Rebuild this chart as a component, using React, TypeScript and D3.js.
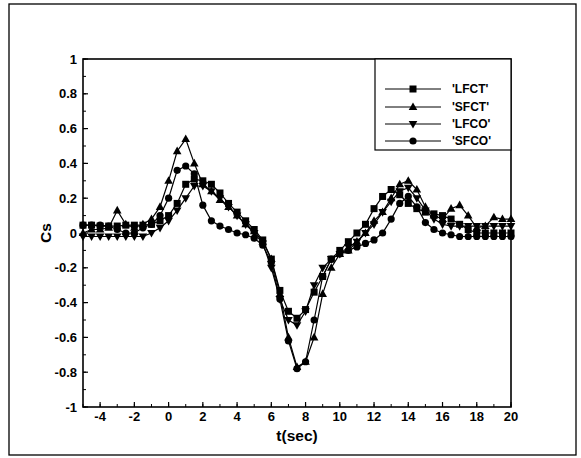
import React from "react";
import * as d3 from "d3";

const times = [-5, -4.5, -4, -3.5, -3, -2.5, -2, -1.5, -1, -0.5, 0, 0.5, 1, 1.5, 2, 2.5, 3, 3.5, 4, 4.5, 5, 5.5, 6, 6.5, 7, 7.5, 8, 8.5, 9, 9.5, 10, 10.5, 11, 11.5, 12, 12.5, 13, 13.5, 14, 14.5, 15, 15.5, 16, 16.5, 17, 17.5, 18, 18.5, 19, 19.5, 20];

const lfct = [0.045, 0.045, 0.04, 0.04, 0.04, 0.045, 0.045, 0.045, 0.05, 0.07, 0.1, 0.17, 0.28, 0.31, 0.3, 0.28, 0.23, 0.17, 0.12, 0.07, 0.02, -0.04, -0.15, -0.33, -0.45, -0.49, -0.44, -0.34, -0.25, -0.15, -0.1, -0.05, 0.0, 0.05, 0.14, 0.21, 0.25, 0.22, 0.17, 0.14, 0.12, 0.11, 0.1, 0.08, 0.05, 0.02, 0.0, 0.0, 0.0, 0.0, 0.0];
const sfct = [0.0, 0.02, 0.02, 0.03, 0.13, 0.05, 0.03, 0.05, 0.08, 0.15, 0.3, 0.47, 0.54, 0.4, 0.28, 0.24, 0.19, 0.15, 0.1, 0.05, 0.01, -0.05, -0.15, -0.35, -0.6, -0.77, -0.74, -0.6, -0.35, -0.2, -0.12, -0.1, -0.05, 0.0, 0.07, 0.12, 0.2, 0.28, 0.3, 0.25, 0.15, 0.1, 0.08, 0.14, 0.16, 0.1, 0.03, 0.04, 0.09, 0.08, 0.08];
const lfco = [-0.02, -0.02, -0.02, -0.02, -0.02, -0.02, -0.02, -0.02, 0.0, 0.03, 0.07, 0.13, 0.2, 0.27, 0.27, 0.24, 0.2, 0.15, 0.1, 0.05, 0.0, -0.06, -0.2, -0.38, -0.5, -0.53, -0.45, -0.3, -0.2, -0.15, -0.12, -0.08, -0.05, 0.0, 0.05, 0.12, 0.18, 0.24, 0.26, 0.2, 0.13, 0.08, 0.05, 0.04, 0.04, 0.04, 0.04, 0.04, 0.04, 0.04, 0.04];
const sfco = [0.045, 0.045, 0.045, 0.04, 0.02, 0.0, 0.0, 0.03, 0.05, 0.1, 0.2, 0.36, 0.385, 0.34, 0.16, 0.07, 0.04, 0.02, 0.0, -0.01, -0.03, -0.07, -0.17, -0.38, -0.62, -0.78, -0.74, -0.5, -0.25, -0.15, -0.12, -0.1, -0.08, -0.06, -0.04, 0.0, 0.08, 0.17, 0.21, 0.15, 0.06, 0.02, 0.0, -0.01, -0.02, -0.02, -0.02, -0.02, -0.02, -0.02, -0.02];

const seriesNames = ["'LFCT'", "'SFCT'", "'LFCO'", "'SFCO'"];
const seriesValues = [lfct, sfct, lfco, sfco];
const seriesMarkers = ["square", "triangle", "triangleDown", "circle"];

const xTicks = [-4, -2, 0, 2, 4, 6, 8, 10, 12, 14, 16, 18, 20];
const yTicks = [-1, -0.8, -0.6, -0.4, -0.2, 0, 0.2, 0.4, 0.6, 0.8, 1];

const W = 581;
const H = 458;
const M = { left: 83, right: 511, top: 59, bottom: 407 };
const FONT = "'Liberation Sans', Arial, sans-serif";

function Marker({ type, x, y }: { type: string; x: number; y: number }) {
  if (type === "square") return <rect x={x - 3.5} y={y - 3.5} width={7} height={7} fill="#000" />;
  if (type === "circle") return <circle cx={x} cy={y} r={3.6} fill="#000" />;
  if (type === "triangle")
    return <path d={`M${x},${y - 4.6}L${x + 4.3},${y + 3}L${x - 4.3},${y + 3}Z`} fill="#000" />;
  return <path d={`M${x},${y + 4.6}L${x + 4.3},${y - 3}L${x - 4.3},${y - 3}Z`} fill="#000" />;
}

export default function App() {
  const x = d3.scaleLinear().domain([-5, 20]).range([M.left, M.right]);
  const y = d3.scaleLinear().domain([-1, 1]).range([M.bottom, M.top]);
  const line = d3
    .line<[number, number]>()
    .x((d) => x(d[0]))
    .y((d) => y(d[1]));

  const xMinor = d3.range(-5, 20.001, 1);
  const yMinor = d3.range(-1, 1.0001, 0.1);

  const legendRows = [89, 107, 124, 141];

  return (
    <svg width={W} height={H} style={{ position: "absolute", left: 0, top: 0, background: "#fff" }}>
      <rect x={0} y={0} width={W} height={H} fill="#fff" />
      <rect x={9} y={4} width={567} height={451} fill="none" stroke="#000" strokeWidth={1.3} />
      <rect x={M.left} y={M.top} width={M.right - M.left} height={M.bottom - M.top} fill="none" stroke="#000" strokeWidth={1.6} />
      {xMinor.map((t, i) => (
        <line key={"xm" + i} x1={x(t)} x2={x(t)} y1={M.bottom} y2={M.bottom - 3} stroke="#000" strokeWidth={1} />
      ))}
      {yMinor.map((t, i) => (
        <line key={"ym" + i} x1={M.left} x2={M.left + 3} y1={y(t)} y2={y(t)} stroke="#000" strokeWidth={1} />
      ))}
      {xTicks.map((t) => (
        <g key={"xt" + t}>
          <line x1={x(t)} x2={x(t)} y1={M.bottom} y2={M.bottom - 5} stroke="#000" strokeWidth={1.2} />
          <text x={x(t)} y={421} textAnchor="middle" fontFamily={FONT} fontSize={13} fontWeight="bold">
            {t}
          </text>
        </g>
      ))}
      {yTicks.map((t) => (
        <g key={"yt" + t}>
          <line x1={M.left} x2={M.left + 5} y1={y(t)} y2={y(t)} stroke="#000" strokeWidth={1.2} />
          <text x={77} y={y(t) + 4.5} textAnchor="end" fontFamily={FONT} fontSize={13} fontWeight="bold">
            {t}
          </text>
        </g>
      ))}
      <text x={297} y={441} textAnchor="middle" fontFamily={FONT} fontSize={15.5} fontWeight="bold">
        t(sec)
      </text>
      <text
        transform={`translate(51,${y(0)}) rotate(-90)`}
        textAnchor="middle"
        fontFamily={FONT}
        fontSize={15.5}
        fontWeight="bold"
      >
        Cs
      </text>
      {seriesValues.map((vals, si) => {
        const pts: [number, number][] = vals.map((v, i) => [times[i], v]);
        return (
          <g key={"s" + si}>
            <path d={line(pts) || ""} fill="none" stroke="#000" strokeWidth={1.2} />
            {pts.map((p, i) => (
              <Marker key={i} type={seriesMarkers[si]} x={x(p[0])} y={y(p[1])} />
            ))}
          </g>
        );
      })}
      <rect x={375} y={M.top} width={M.right - 375} height={91} fill="#fff" stroke="#000" strokeWidth={1.2} />
      {seriesNames.map((name, i) => (
        <g key={"lg" + i}>
          <line x1={385} x2={441} y1={legendRows[i]} y2={legendRows[i]} stroke="#000" strokeWidth={1} />
          <Marker type={seriesMarkers[i]} x={413} y={legendRows[i]} />
          <text x={452} y={legendRows[i] + 4} fontFamily={FONT} fontSize={12} fontWeight="bold">
            {name}
          </text>
        </g>
      ))}
    </svg>
  );
}
